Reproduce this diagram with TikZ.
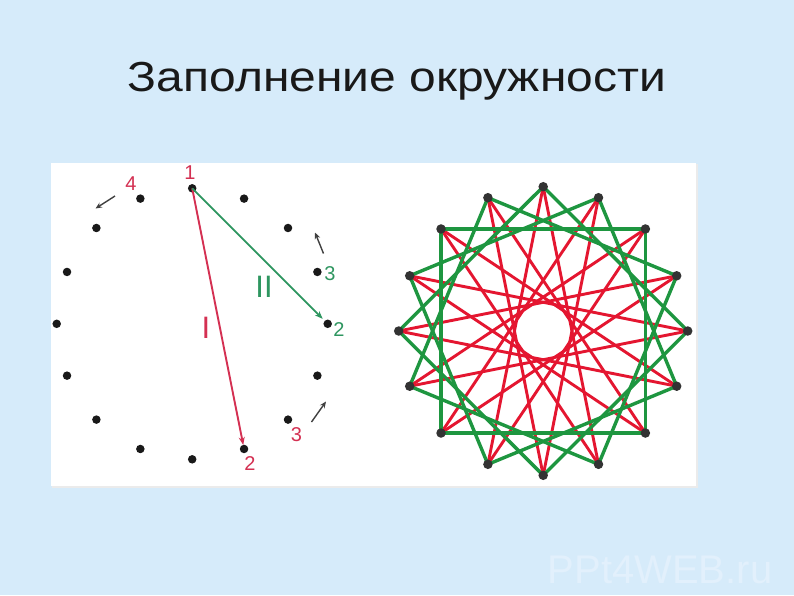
\documentclass[tikz,border=0pt]{standalone}
\usepackage{fontspec}
\setmainfont{Liberation Sans}
\usepackage{graphicx}
\usetikzlibrary{arrows.meta}
\definecolor{bgblue}{RGB}{214,235,250}
\definecolor{wmark}{RGB}{226,240,252}
\definecolor{lred}{RGB}{212,48,82}
\definecolor{lgreen}{RGB}{46,150,96}
\definecolor{rred}{RGB}{228,22,48}
\definecolor{rgreen}{RGB}{30,150,64}
\definecolor{titlecol}{RGB}{25,25,25}
\tikzset{
  dotL/.style={circle,fill=black!90,inner sep=0pt,minimum size=8.5pt},
  dotR/.style={circle,fill=black!80,inner sep=0pt,minimum size=9.5pt},
  redchord/.style={draw=rred,line width=2.9pt,line cap=round},
  greenchord/.style={draw=rgreen,line width=3.4pt,line cap=round},
  numlab/.style={inner sep=0pt,font=\fontsize{20}{22}\selectfont},
  romlab/.style={inner sep=0pt,font=\fontsize{31}{33}\selectfont},
  smallarrow/.style={draw=black!75,line width=1.4pt,-{Stealth[length=6.5pt,width=5.5pt]}},
}
\begin{document}
\begin{tikzpicture}[x=1pt,y=-1pt]
\useasboundingbox (0,0) rectangle (794,595);
\fill[bgblue] (0,0) rectangle (794,595);
% panel
\fill[black!8] (52,164) rectangle (698,488);
\fill[white] (51,163) rectangle (696,486);
% title
\node[inner sep=0pt,anchor=base,text=titlecol] (title) at (397,91.7)
  {\resizebox{538pt}{\height}{\fontsize{42}{48}\selectfont Заполнение окружности}};
% watermark
\node[inner sep=0pt,text=wmark,font=\fontsize{40}{44}\selectfont] (wm) at (660,570) {PPt4WEB.ru};
% left circle dots
\foreach \i in {0,...,15} {
  \node[dotL] (L\i) at ({192.2+135.5*cos(90-22.5*\i)},{323.8-135.5*sin(90-22.5*\i)}) {};
}
% left arrows
\draw[draw=lred,line width=1.9pt,shorten >=4pt,-{Stealth[length=8pt,width=6pt]}] (L0.center) -- (L7.center);
\draw[draw=lgreen,line width=1.9pt,shorten >=7pt,-{Stealth[length=8pt,width=6pt]}] (L0.center) -- (L4.center);
% labels
\node[numlab,text=lred] (n1) at (190,173) {1};
\node[numlab,text=lred] (n4) at (131,184) {4};
\node[numlab,text=lgreen] (g3) at (330,273.5) {3};
\node[numlab,text=lgreen] (g2) at (339,330) {2};
\node[numlab,text=lred] (r3) at (296.5,435) {3};
\node[numlab,text=lred] (r2) at (250,463.5) {2};
\node[romlab,text=lgreen] (rII) at (264,287) {II};
\node[romlab,text=lred] (rI) at (206,327.5) {I};
% small black arrows
\coordinate (a1s) at (115,196); \coordinate (a1e) at (95.5,208.5);
\coordinate (a2s) at (323.5,253.5); \coordinate (a2e) at (315,232.5);
\coordinate (a3s) at (311.5,422); \coordinate (a3e) at (326,401.5);
\draw[smallarrow] (a1s) -- (a1e);
\draw[smallarrow] (a2s) -- (a2e);
\draw[smallarrow] (a3s) -- (a3e);
% right figure
\foreach \i in {0,...,15} {
  \coordinate (R\i) at ({543.2+144.5*cos(90-22.5*\i)},{331-144.3*sin(90-22.5*\i)});
}
\foreach \i in {0,...,15} {
  \pgfmathtruncatemacro\j{mod(\i+7,16)}
  \draw[redchord] (R\i) -- (R\j);
}
\foreach \i in {0,...,15} {
  \pgfmathtruncatemacro\j{mod(\i+4,16)}
  \draw[greenchord] (R\i) -- (R\j);
}
\foreach \i in {0,...,15} {
  \node[dotR] (RD\i) at (R\i) {};
}
\end{tikzpicture}
\end{document}
